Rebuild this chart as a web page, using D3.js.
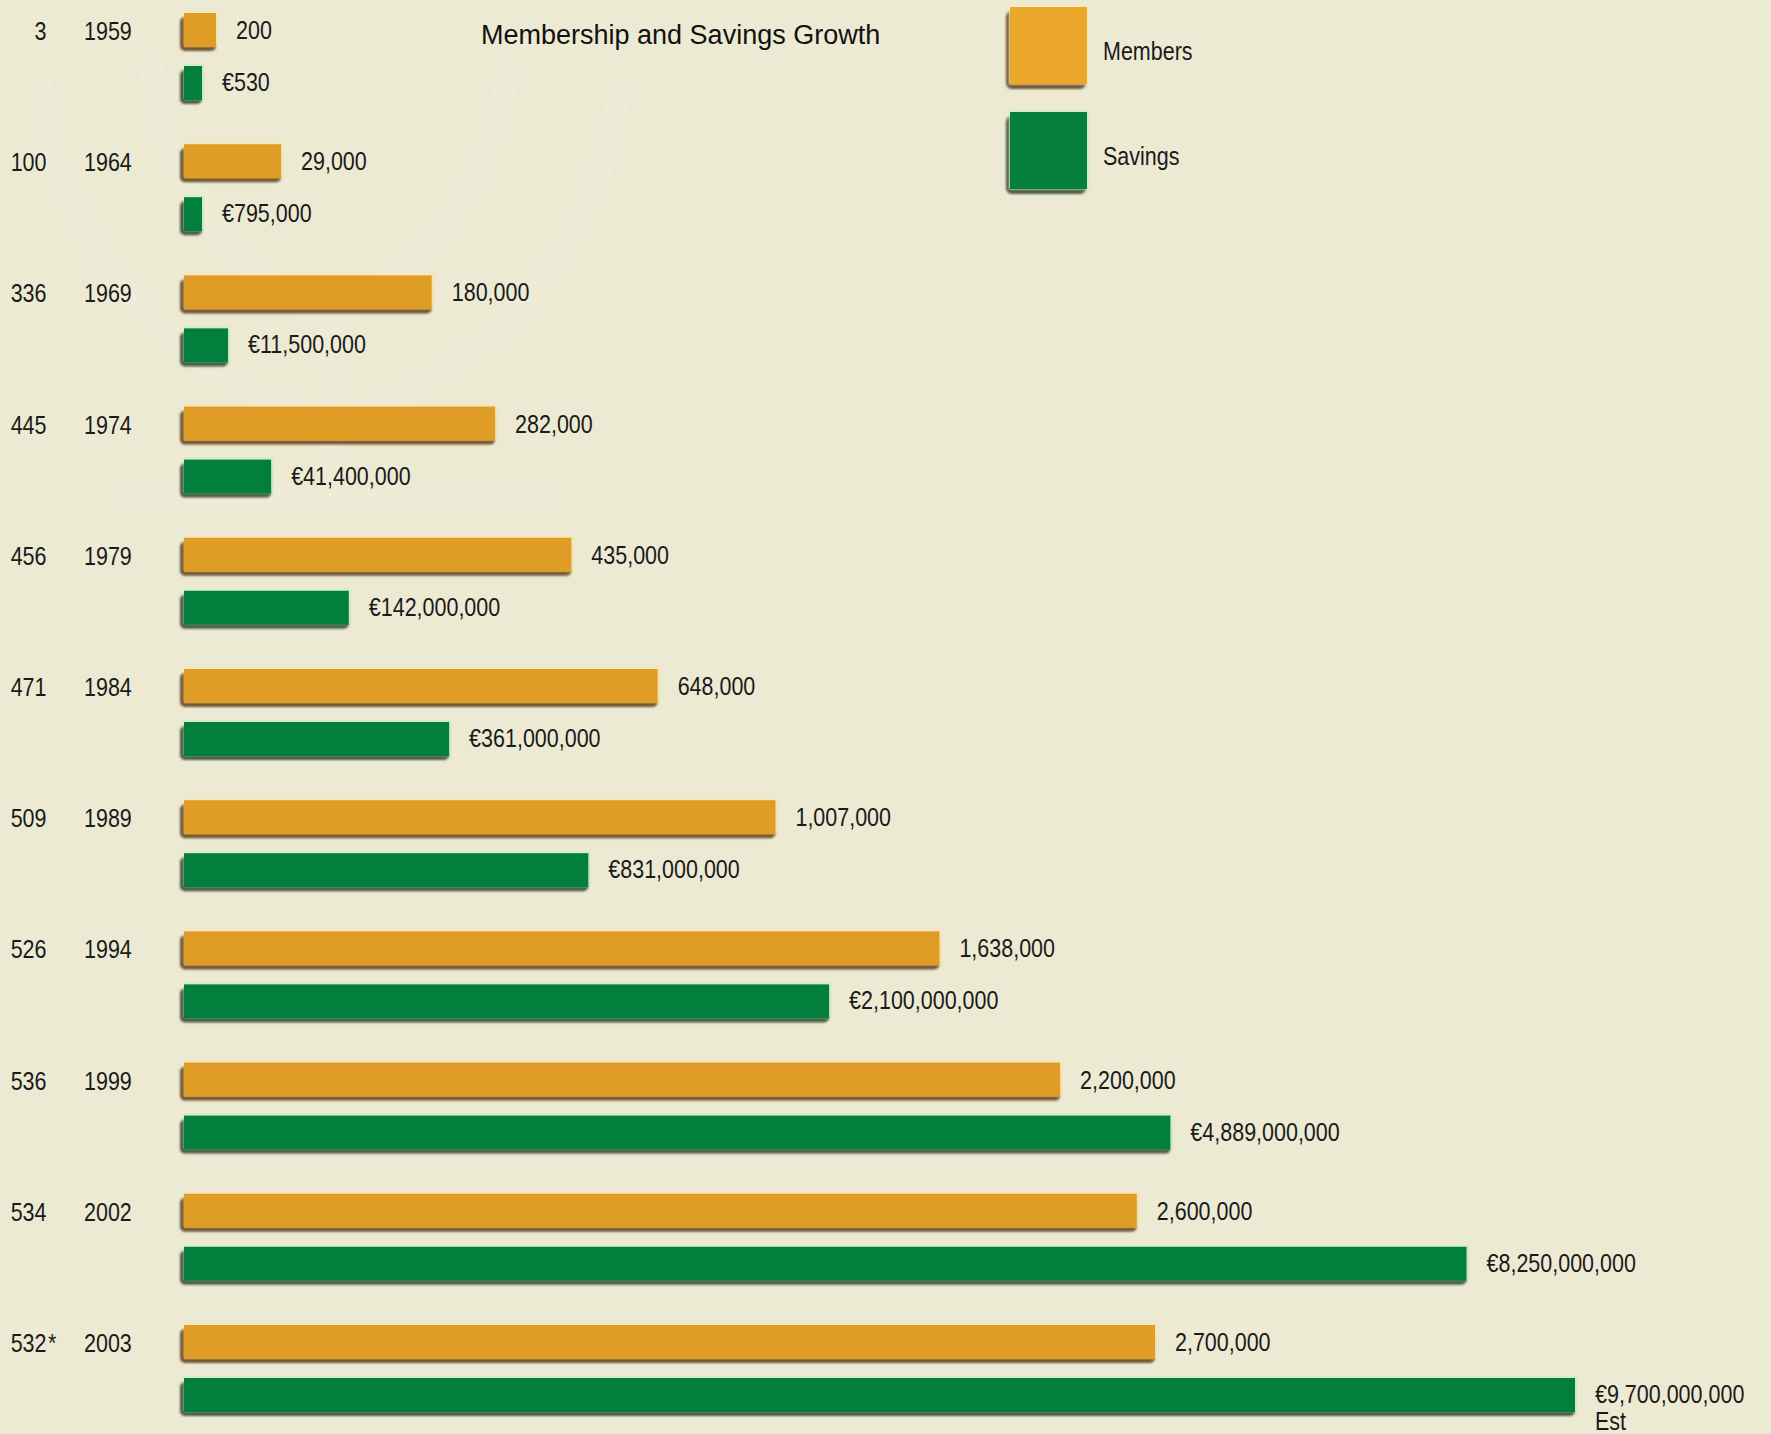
<!DOCTYPE html>
<html>
<head>
<meta charset="utf-8">
<script src="https://cdn.jsdelivr.net/npm/d3@7"></script>
<style>
  body { margin: 0; background: #edead3; }
  svg { display: block; }
</style>
</head>
<body>
<div id="chart"></div>
<script>
// data
const years = ["1959", "1964", "1969", "1974", "1979", "1984", "1989", "1994", "1999", "2002", "2003"];
const unionCounts = ["3", "100", "336", "445", "456", "471", "509", "526", "536", "534", "532*"];
const members = [200, 29000, 180000, 282000, 435000, 648000, 1007000, 1638000, 2200000, 2600000, 2700000];
const savings = [530, 795000, 11500000, 41400000, 142000000, 361000000, 831000000, 2100000000, 4889000000, 8250000000, 9700000000];
const estimated = ["2003"];

const w = 1771;
const h = 1434;
const x0 = 180;
const barH = 34;
const gap = 53;
const minLen = 22;

const svg = d3.select("#chart")
  .append("svg")
  .attr("width", w)
  .attr("height", h);

const defs = svg.append("defs");
defs.append("filter")
  .attr("id", "soft")
  .attr("x", "-5%").attr("y", "-30%")
  .attr("width", "110%").attr("height", "160%")
  .append("feGaussianBlur")
  .attr("stdDeviation", 1.3);

svg.append("rect")
  .attr("width", w)
  .attr("height", h)
  .attr("fill", "#edead3");

// faint emblem in the background
const mark = svg.append("g")
  .attr("fill", "none")
  .attr("stroke", "#f1efdc")
  .attr("stroke-width", 24)
  .attr("opacity", 0.4);
mark.append("path").attr("d", "M40,80 C60,260 180,380 330,420 C480,380 600,260 620,80");
mark.append("path").attr("d", "M150,60 C170,200 250,290 330,310 C410,290 490,200 510,60");
mark.append("path").attr("d", "M330,300 L330,500");
mark.append("path").attr("d", "M120,500 L560,500");

// scales
const yScale = d3.scalePoint()
  .domain(years)
  .range([13, 1325]);

const memScale = d3.scaleSqrt()
  .domain([0, d3.max(members)])
  .range([0, 975]);

const savScale = d3.scaleSqrt()
  .domain([0, d3.max(savings)])
  .range([0, 1395]);

const font = "'Liberation Sans', Arial, sans-serif";

// condensed label: normal font squeezed horizontally
function label(x, y, txt, anchor) {
  svg.append("text")
    .attr("transform", "translate(" + x + "," + y + ") scale(0.86,1)")
    .attr("text-anchor", anchor || "start")
    .style("font-family", font)
    .style("font-size", "25px")
    .attr("fill", "#1a1a1a")
    .text(txt);
}

// one shaded bar
function bar(x, y, len, fill, shadow, light) {
  svg.append("rect")
    .attr("x", x)
    .attr("y", y + 4)
    .attr("width", len)
    .attr("height", barH)
    .attr("rx", 5)
    .attr("fill", shadow)
    .attr("filter", "url(#soft)");
  svg.append("rect")
    .attr("x", x + 4)
    .attr("y", y - 1.5)
    .attr("width", len - 2)
    .attr("height", barH + 1)
    .attr("fill", light)
    .attr("filter", "url(#soft)");
  svg.append("rect")
    .attr("x", x + 4)
    .attr("y", y)
    .attr("width", len - 4)
    .attr("height", barH)
    .attr("fill", fill);
}

const rows = years.map((yr, i) => ({
  year: yr,
  count: unionCounts[i],
  mem: members[i],
  sav: savings[i]
}));

rows.forEach(function(d) {
  const top = yScale(d.year);
  const mLen = Math.max(memScale(d.mem), minLen + 14);
  const sLen = Math.max(savScale(d.sav), minLen);

  bar(x0, top, mLen, "#df9d26", "#6e5530", "#f8e3ae");
  bar(x0, top + gap, sLen, "#037f3d", "#4a5a40", "#c9ecc4");

  // left columns
  label(46.5, top + 27, d.count.replace("*", ""), "end");
  if (d.count.endsWith("*")) label(48, top + 27, "*");
  label(84, top + 27, d.year);

  // value labels
  label(x0 + mLen + 20, top + 26, d3.format(",")(d.mem));
  label(x0 + sLen + 20, top + gap + 25, "€" + d3.format(",")(d.sav));
  if (estimated.includes(d.year)) label(x0 + sLen + 20, top + gap + 52, "Est");
});

// title
svg.append("text")
  .attr("x", 481)
  .attr("y", 44)
  .style("font-family", font)
  .style("font-size", "27px")
  .attr("fill", "#111")
  .text("Membership and Savings Growth");

// legend
function legend(y, fill, shadow, light, text) {
  svg.append("rect")
    .attr("x", 1006)
    .attr("y", y + 4)
    .attr("width", 80)
    .attr("height", 78)
    .attr("rx", 6)
    .attr("fill", shadow)
    .attr("filter", "url(#soft)");
  svg.append("rect")
    .attr("x", 1009)
    .attr("y", y - 1.5)
    .attr("width", 80)
    .attr("height", 79)
    .attr("fill", light)
    .attr("filter", "url(#soft)");
  svg.append("rect")
    .attr("x", 1010)
    .attr("y", y)
    .attr("width", 77)
    .attr("height", 77)
    .attr("fill", fill);
  label(1103, y + 53, text);
}

legend(7, "#eca72d", "#6e5530", "#fbe9b8", "Members");
legend(112, "#05803d", "#4a5a40", "#cdeec8", "Savings");
</script>
</body>
</html>
